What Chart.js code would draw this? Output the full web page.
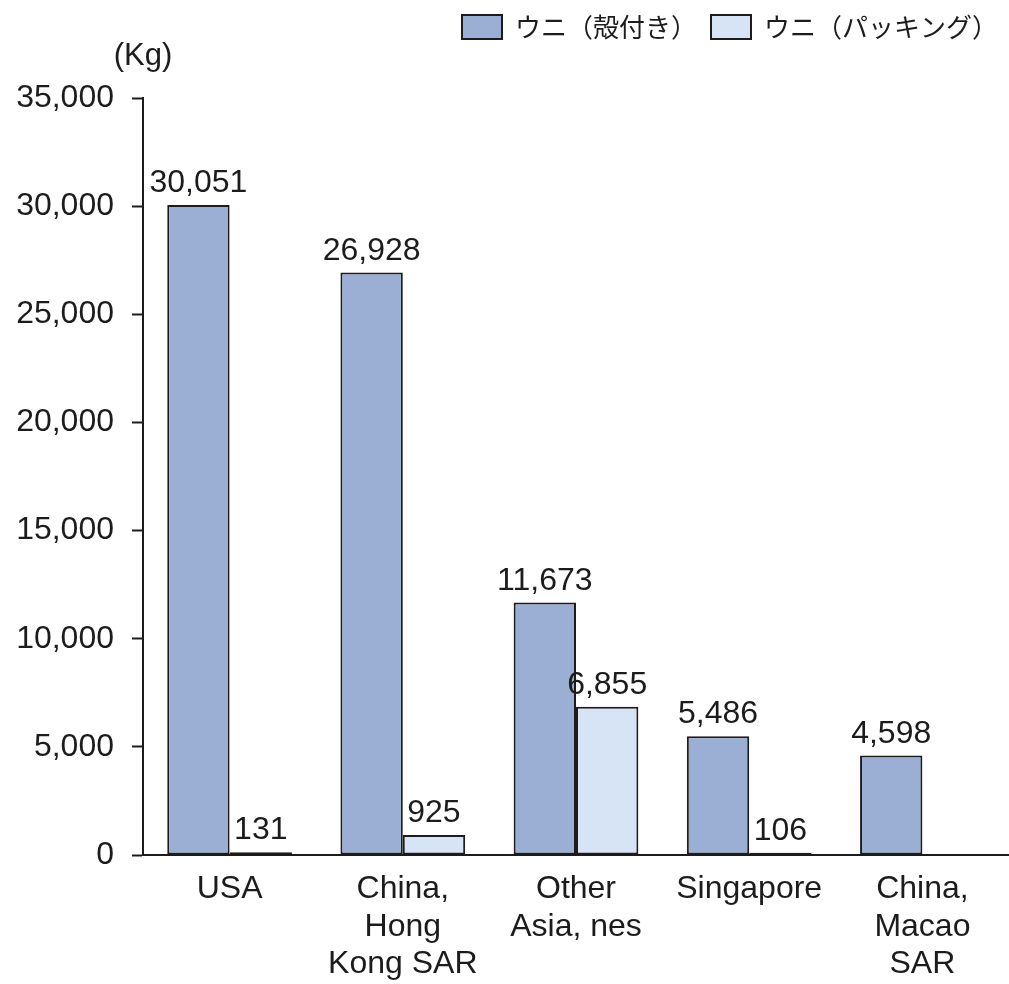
<!DOCTYPE html>
<html lang="ja">
<head>
<meta charset="utf-8">
<title>ウニ 輸出量</title>
<script src="https://cdn.jsdelivr.net/npm/chart.js@4.4.1/dist/chart.umd.min.js"></script>
<style>
  html, body { margin: 0; padding: 0; background: #ffffff; }
  #wrap { width: 1009px; height: 984px; }
</style>
</head>
<body>
<div id="wrap"><canvas id="chart" width="1009" height="984"></canvas></div>
<script>
// Export destinations and volumes (Kg)
const categories = [
  ['USA'],
  ['China,', 'Hong', 'Kong SAR'],
  ['Other', 'Asia, nes'],
  ['Singapore'],
  ['China,', 'Macao', 'SAR']
];
const seriesNames = ['ウニ（殻付き）', 'ウニ（パッキング）'];
const withShell = [30051, 26928, 11673, 5486, 4598];
const packed = [131, 925, 6855, 106, null];
const yTicks = { min: 0, max: 35000, step: 5000 };
const unitLabel = '(Kg)';

const LATIN = '"Liberation Sans", Arial, Helvetica, sans-serif';
const CJK = '"Noto Sans CJK JP", "Noto Sans CJK SC", sans-serif';
const INK = '#1c1c1c';

// Number printed above each bar
const valueLabels = {
  id: 'valueLabels',
  afterDatasetsDraw(chart) {
    const ctx = chart.ctx;
    ctx.save();
    ctx.font = '32px ' + LATIN;
    ctx.fillStyle = INK;
    ctx.textAlign = 'center';
    ctx.textBaseline = 'alphabetic';
    chart.data.datasets.forEach((ds, i) => {
      chart.getDatasetMeta(i).data.forEach((bar, j) => {
        const v = ds.data[j];
        if (v === null || v === undefined) return;
        ctx.fillText(v.toLocaleString('en-US'), bar.x, bar.y - 13);
      });
    });
    ctx.restore();
  }
};

// Unit caption above the value axis
const unitCaption = {
  id: 'unitCaption',
  afterDraw(chart) {
    const y = chart.scales.y;
    const ctx = chart.ctx;
    ctx.save();
    ctx.font = '31px ' + LATIN;
    ctx.fillStyle = INK;
    ctx.textAlign = 'center';
    ctx.textBaseline = 'middle';
    ctx.fillText(unitLabel, y.right, y.top - 42);
    ctx.restore();
  }
};

// Reserve room between the legend row and the plot
const legendRoom = {
  id: 'legendRoom',
  beforeLayout(chart) {
    const lg = chart.legend;
    if (lg && !lg._roomPatched) {
      const fit = lg.fit;
      lg.fit = function () { fit.call(this); this.height = 98; };
      lg._roomPatched = true;
    }
  }
};

new Chart(document.getElementById('chart'), {
  type: 'bar',
  data: {
    labels: categories,
    datasets: [
      {
        label: seriesNames[0],
        data: withShell,
        backgroundColor: '#9aafd3',
        borderColor: INK,
        borderWidth: 2,
        borderSkipped: false
      },
      {
        label: seriesNames[1],
        data: packed,
        backgroundColor: '#d7e4f5',
        borderColor: INK,
        borderWidth: 2,
        borderSkipped: false
      }
    ]
  },
  options: {
    responsive: false,
    animation: false,
    devicePixelRatio: 1,
    layout: { padding: { left: 0, right: -3, top: 0, bottom: 0 } },
    datasets: { bar: { categoryPercentage: 0.72, barPercentage: 1.0 } },
    plugins: {
      legend: {
        position: 'top',
        align: 'end',
        labels: {
          boxWidth: 40,
          boxHeight: 24,
          padding: 14,
          color: INK,
          font: { family: CJK, size: 26 }
        }
      },
      tooltip: { enabled: false }
    },
    scales: {
      x: {
        grid: { display: false, drawTicks: false },
        border: { display: true, color: INK, width: 2 },
        ticks: {
          color: INK,
          padding: 16,
          maxRotation: 0,
          autoSkip: false,
          font: { family: LATIN, size: 32, lineHeight: 1.16 }
        },
        afterFit(scale) { scale.height = 129; }
      },
      y: {
        min: yTicks.min,
        max: yTicks.max,
        grid: {
          display: true,
          drawOnChartArea: false,
          drawTicks: true,
          tickLength: 11,
          tickWidth: 2,
          tickColor: INK
        },
        border: { display: true, color: INK, width: 2 },
        ticks: {
          stepSize: yTicks.step,
          color: INK,
          padding: 18,
          font: { family: LATIN, size: 32 },
          callback: (v) => v.toLocaleString('en-US')
        },
        afterFit(scale) { scale.width = 143; }
      }
    }
  },
  plugins: [legendRoom, valueLabels, unitCaption]
});
</script>
</body>
</html>
